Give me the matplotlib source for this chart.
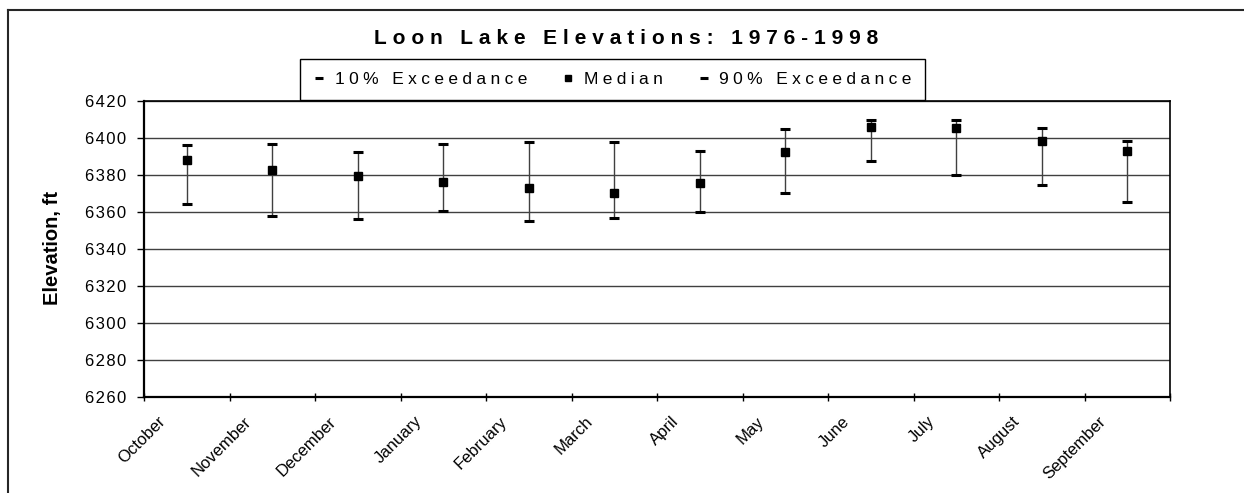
import numpy as np
import matplotlib
matplotlib.use('Agg')
import matplotlib.pyplot as plt
from matplotlib.lines import Line2D
from matplotlib.transforms import ScaledTranslation

# data
months = ['October', 'November', 'December', 'January', 'February', 'March',
          'April', 'May', 'June', 'July', 'August', 'September']
p10 = [6396.4, 6396.6, 6392.3, 6396.9, 6397.7, 6398.0,
       6393.0, 6404.7, 6409.7, 6409.5, 6405.4, 6398.2]
median = [6387.9, 6382.7, 6379.5, 6376.4, 6372.8, 6370.1,
          6375.7, 6392.6, 6405.8, 6405.6, 6398.4, 6392.8]
p90 = [6364.5, 6357.7, 6356.4, 6360.5, 6355.3, 6356.9,
       6360.0, 6370.3, 6387.6, 6380.2, 6374.4, 6365.2]
yticks = list(range(6260, 6421, 20))

plt.rcParams['font.family'] = ['Liberation Sans', 'DejaVu Sans']

THIN = '\u2009'
HAIR = '\u200a'
FOUR = '\u2005'


def spaced(s, sep=THIN):
    # wide letter spacing like the original
    return sep.join(s)


fig = plt.figure(figsize=(12.44, 4.93), dpi=100)
ax = fig.add_axes([144/1244, 1-397/493, (1170-144)/1244, (397-101)/493])

x = np.arange(len(months))
ax.vlines(x, p90, p10, color='0.25', lw=1, zorder=3)
ax.plot(x, p10, ls='none', marker='_', ms=7.5, mew=2.2, color='black',
        label=spaced('10% Exceedance', FOUR), zorder=4)
ax.plot(x, median, ls='none', marker='s', ms=6, color='black',
        label=spaced('Median', FOUR), zorder=5)
ax.plot(x, p90, ls='none', marker='_', ms=7.5, mew=2.2, color='black',
        label=spaced('90% Exceedance', FOUR), zorder=4)

ax.set_ylim(6260, 6420)
ax.set_yticks(yticks)
ax.set_yticklabels([spaced(str(v), HAIR) for v in yticks])
ax.yaxis.grid(True, color='0.25', lw=1)
ax.set_axisbelow(True)

ax.set_xlim(-0.5, 11.5)
ax.set_xticks(x)
ax.set_xticklabels(months, rotation=45, ha='right', va='top', fontsize=12)
ax.set_xticks(np.arange(-0.5, 12, 1), minor=True)
ax.tick_params(axis='x', which='major', length=0, pad=12)
ax.tick_params(axis='x', which='minor', direction='inout', length=6, width=1)
ax.tick_params(axis='y', direction='out', length=5, width=1, labelsize=12, pad=8)
for lab in ax.get_xticklabels():
    lab.set_transform(lab.get_transform() + ScaledTranslation(-0.185, 0, fig.dpi_scale_trans))

for s in ['left', 'bottom']:
    ax.spines[s].set_linewidth(1.6)
for s in ['top', 'right']:
    ax.spines[s].set_linewidth(1.2)

leg = ax.legend(loc='center', bbox_to_anchor=(612.5/1244, 1-79.5/493),
                bbox_transform=fig.transFigure, ncol=3, fancybox=False,
                edgecolor='black', framealpha=1, fontsize=12.5,
                markerscale=0.8, handlelength=0.7, handletextpad=0.55,
                columnspacing=2.0, borderpad=0.75)
leg.get_frame().set_linewidth(1)

fig.text(626/1244, 1-39/493, spaced('Loon Lake Elevations: 1976-1998', THIN + HAIR),
         ha='center', va='center', fontsize=15, fontweight='bold')
fig.text(52.5/1244, 1-248/493, 'Elevation, ft', rotation=90, ha='center',
         va='center', fontsize=14.5, fontweight='bold')

# outer frame (left and top edges)
fig.add_artist(Line2D([8/1244, 8/1244], [0, 1-10/493], transform=fig.transFigure,
                      color='0.15', lw=1.5))
fig.add_artist(Line2D([8/1244, 1], [1-10/493, 1-10/493], transform=fig.transFigure,
                      color='0.15', lw=1.5))

fig.savefig('out.png', dpi=100)
